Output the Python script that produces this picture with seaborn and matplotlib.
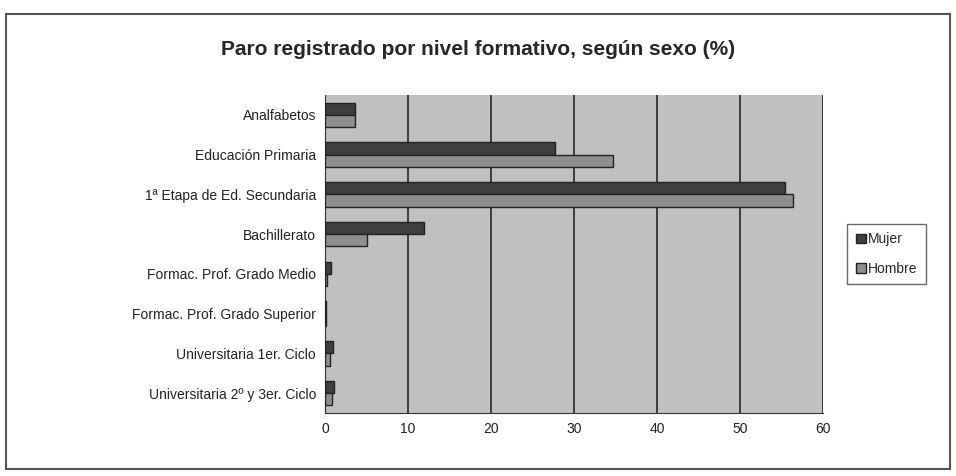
import pandas as pd
import matplotlib.pyplot as plt
import seaborn as sns
from matplotlib.patches import Rectangle

niveles = ["Analfabetos", "Educación Primaria", "1ª Etapa de Ed. Secundaria",
           "Bachillerato", "Formac. Prof. Grado Medio", "Formac. Prof. Grado Superior",
           "Universitaria 1er. Ciclo", "Universitaria 2º y 3er. Ciclo"]
mujer = [3.6, 27.7, 55.4, 11.9, 0.7, 0.1, 0.9, 1.1]
hombre = [3.6, 34.7, 56.4, 5.1, 0.2, 0.1, 0.6, 0.8]

df = pd.DataFrame({"nivel": niveles * 2,
                   "valor": mujer + hombre,
                   "sexo": ["Mujer"] * len(niveles) + ["Hombre"] * len(niveles)})

sns.set_style("white")
plt.rcParams["font.family"] = ["Liberation Sans", "DejaVu Sans"]

fig = plt.figure(figsize=(9.56, 4.76), dpi=100)
ax = fig.add_axes([0.34, 0.1324, 0.521, 0.668])

sns.barplot(data=df, y="nivel", x="valor", hue="sexo", orient="h",
            palette={"Mujer": "#3f3f3f", "Hombre": "#8f8f8f"},
            width=0.62, edgecolor="#222222", linewidth=1, ax=ax, zorder=3)

ax.set_facecolor("#c0c0c0")
ax.set_xlim(0, 60)
ax.set_xticks(range(0, 61, 10))
ax.xaxis.grid(True, color="#333333", linewidth=1.3, zorder=0)
ax.set_axisbelow(True)
ax.set_xlabel("")
ax.set_ylabel("")
ax.tick_params(axis="both", labelsize=10, colors="#222222", length=3)
for s in ["top", "right"]:
    ax.spines[s].set_visible(False)
ax.spines["left"].set_color("#333333")
ax.spines["bottom"].set_color("#333333")

leg = ax.legend(loc="center left", bbox_to_anchor=(1.035, 0.5), fontsize=10,
                frameon=True, fancybox=False, edgecolor="#444444",
                handlelength=0.7, handleheight=0.7, handletextpad=0.2,
                borderpad=0.6, labelspacing=1.1)

fig.text(0.5, 0.897, "Paro registrado por nivel formativo, según sexo (%)",
         ha="center", va="center", fontsize=15, fontweight="bold",
         family=["Liberation Sans Narrow", "Liberation Sans", "DejaVu Sans"])

fig.patches.append(Rectangle((0.006, 0.015), 0.988, 0.955, transform=fig.transFigure,
                             fill=False, edgecolor="#555555", linewidth=1.5))

fig.savefig("out.png", dpi=100)
